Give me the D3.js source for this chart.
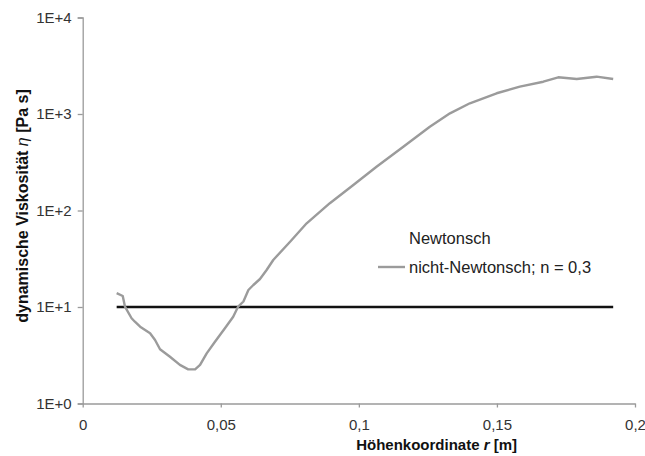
<!DOCTYPE html>
<html><head><meta charset="utf-8">
<script src="https://cdn.jsdelivr.net/npm/d3@7"></script>
<style>body{margin:0;background:#fff}svg{display:block}text{font-family:Arial,"Liberation Sans",sans-serif}</style>
</head><body><svg id="c" width="645" height="456"></svg>
<script>
// r [m]
const rNonNewton = [0.0123,0.0145,0.0153,0.0177,0.0189,0.0208,0.0244,0.0262,0.0280,0.0316,0.0352,0.0382,0.0407,0.0425,0.0449,0.0479,0.0515,0.0545,0.0563,0.0582,0.0600,0.0618,0.0642,0.0666,0.0690,0.0751,0.0811,0.0895,0.0980,0.1064,0.1161,0.1257,0.1330,0.1402,0.1499,0.1583,0.1668,0.1722,0.1789,0.1861,0.1921];
// eta [Pa s]
const etaNonNewton = [13.9,13.0,10.1,7.64,7.04,6.25,5.34,4.55,3.65,3.05,2.51,2.26,2.26,2.51,3.31,4.37,6.02,7.93,10.1,11.4,15.0,16.9,19.5,24.2,30.7,47.5,73.7,119,184,284,458,738,1016,1291,1640,1919,2161,2400,2305,2436,2305];
const rNewton = [0.0123,0.1921];
const etaNewton = [10,10];
const xTicks = [0,0.05,0.1,0.15,0.2];
const xTickLabels = ["0","0,05","0,1","0,15","0,2"];
const yTicks = [1,10,100,1000,10000];
const yTickLabels = ["1E+0","1E+1","1E+2","1E+3","1E+4"];
const legendLabels = ["Newtonsch","nicht-Newtonsch; n = 0,3"];

const svg = d3.select("#c");
const x = d3.scaleLinear().domain([0,0.2]).range([82.7,635]);
const y = d3.scaleLog().domain([1,10000]).range([403.5,17.5]);
const axisCol = "#9a9a9a", textCol = "#333";

// y axis
const ya = svg.append("g").attr("transform","translate(82.7,0)")
  .call(d3.axisLeft(y).tickValues(yTicks).tickFormat((d,i)=>yTickLabels[i]).tickSize(5).tickPadding(6));
ya.select(".domain").attr("stroke",axisCol).attr("stroke-width",1.3);
ya.selectAll(".tick line").attr("stroke",axisCol).attr("stroke-width",1.3);
ya.selectAll(".tick text").attr("fill",textCol).style("font-size","15px").style("font-family","Arial, 'Liberation Sans', sans-serif");

// x axis
const xa = svg.append("g").attr("transform","translate(0,403.5)")
  .call(d3.axisBottom(x).tickValues(xTicks).tickFormat((d,i)=>xTickLabels[i]).tickSize(4).tickPadding(12).tickSizeOuter(0));
xa.select(".domain").attr("stroke",axisCol).attr("stroke-width",1.3);
xa.selectAll(".tick line").attr("stroke",axisCol).attr("stroke-width",1.3);
xa.selectAll(".tick text").attr("fill",textCol).style("font-size","15px").style("font-family","Arial, 'Liberation Sans', sans-serif");

// lines
const line = d3.line().x(d=>x(d[0])).y(d=>y(d[1]));
svg.append("path").datum(rNewton.map((r,i)=>[r,etaNewton[i]]))
  .attr("d",line).attr("fill","none").attr("stroke","#111").attr("stroke-width",2.4);
svg.append("path").datum(rNonNewton.map((r,i)=>[r,etaNonNewton[i]]))
  .attr("d",line).attr("fill","none").attr("stroke","#9b9b9b").attr("stroke-width",2.4).attr("stroke-linejoin","round");

// axis titles
const xt = svg.append("text").attr("x",517).attr("y",450).attr("text-anchor","end")
  .attr("fill","#111").style("font-size","15px").style("font-weight","bold");
xt.append("tspan").text("Höhenkoordinate ");
xt.append("tspan").style("font-style","italic").text("r");
xt.append("tspan").text(" [m]");

const yt = svg.append("text").attr("transform","translate(28,206) rotate(-90)").attr("text-anchor","middle")
  .attr("fill","#111").style("font-size","16px").style("font-weight","bold");
yt.append("tspan").text("dynamische Viskosität ");
yt.append("tspan").style("font-style","italic").style("font-weight","normal").text("η");
yt.append("tspan").text(" [Pa s]");

// legend
svg.append("text").attr("x",409).attr("y",243.5).attr("fill","#222").style("font-size","16.5px").text(legendLabels[0]);
svg.append("line").attr("x1",378).attr("x2",405).attr("y1",267).attr("y2",267).attr("stroke","#9b9b9b").attr("stroke-width",2.4);
svg.append("text").attr("x",409).attr("y",272.5).attr("fill","#222").style("font-size","16.5px").text(legendLabels[1]);
</script></body></html>
